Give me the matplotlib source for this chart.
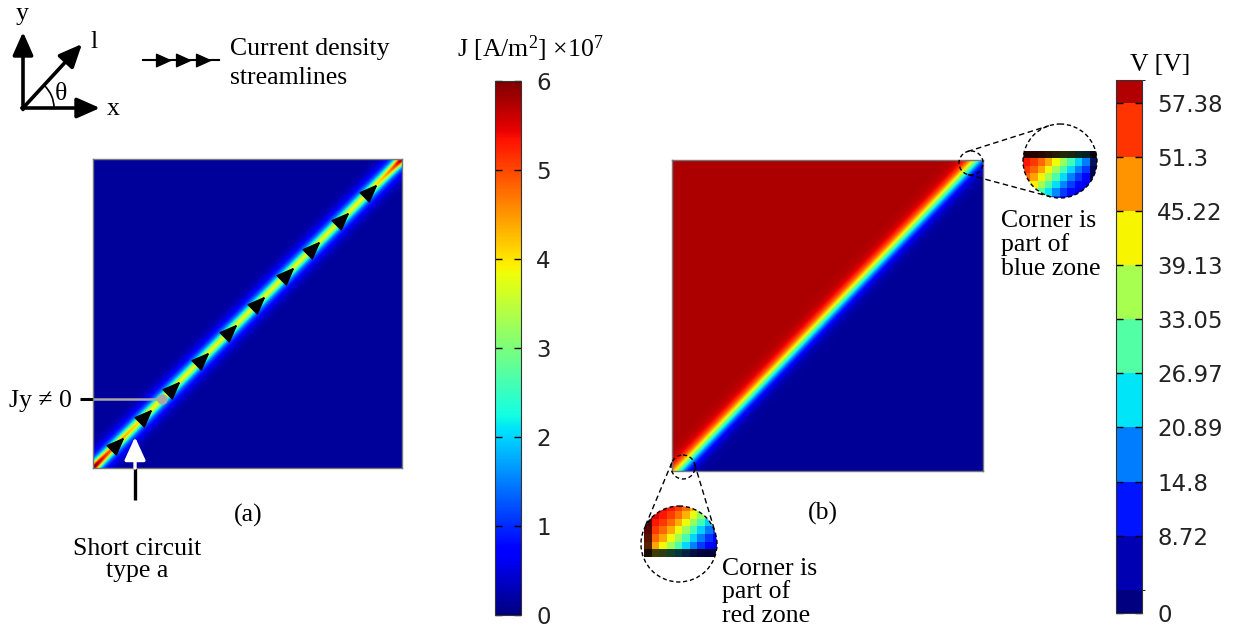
import numpy as np
import matplotlib
matplotlib.use('Agg')
import matplotlib.pyplot as plt
from matplotlib import patches
from matplotlib.colors import ListedColormap, BoundaryNorm, Normalize
from matplotlib.cm import ScalarMappable

W, H = 1243, 627

# colour scales
j_ticks = [0, 1, 2, 3, 4, 5, 6]
j_min, j_max = 0.0, 6.0
v_min, v_max = 0.0, 60.0
v_levels = [0, 2.64, 8.72, 14.8, 20.89, 26.97, 33.05, 39.13, 45.22, 51.3, 57.38, 60.0]
v_ticks = [0, 8.72, 14.8, 20.89, 26.97, 33.05, 39.13, 45.22, 51.3, 57.38]
v_tick_labels = ['0', '8.72', '14.8', '20.89', '26.97', '33.05', '39.13',
                 '45.22', '51.3', '57.38']

# current density (a): background, core and halo of the diagonal band
j_background = 0.15
j_core = 2.0
j_halo = 1.6
j_corner = [2.6, 2.4]        # extra core value at lower-left / upper-right corner
corner_decay = [0.07, 0.04]
core_width = 0.013
halo_width = 0.034

# potential (b)
v_low, v_high = 1.2, 57.6
v_edge_offset = 0.02         # mid contour meets bottom edge at u=offset, top at 1-offset
v_width = 0.034

# streamline arrowheads, fraction along the diagonal
arrow_pos = [0.078, 0.168, 0.259, 0.353, 0.443, 0.534, 0.628, 0.712, 0.806, 0.896]
jy_point = 0.223             # marked point with Jy != 0
short_circuit_u = 0.136

SERIF = ['Liberation Serif', 'DejaVu Serif']
plt.rcParams['font.family'] = 'DejaVu Sans'
plt.rcParams['mathtext.fontset'] = 'custom'
plt.rcParams['mathtext.rm'] = 'Liberation Serif'
plt.rcParams['mathtext.it'] = 'Liberation Serif:italic'
FS = 18.5


def j_field(u, v):
    d = np.abs(v - u) / np.sqrt(2)
    t = (u + v) / 2
    core = (j_core + j_corner[0] * np.exp(-t / corner_decay[0])
            + j_corner[1] * np.exp(-(1 - t) / corner_decay[1]))
    return (j_background + core * np.exp(-(d / core_width) ** 2)
            + j_halo * np.exp(-(d / halo_width) ** 2))


def v_field(u, v):
    u_mid = v_edge_offset + (1 - 2 * v_edge_offset) * v
    s = np.tanh((u_mid - u) / v_width)
    return (v_high + v_low) / 2 + (v_high - v_low) / 2 * s


def rect(x0, y0, x1, y1):
    return [x0 / W, 1 - y1 / H, (x1 - x0) / W, (y1 - y0) / H]


def tri_marker(angle_deg, half_width):
    pts = np.array([[1, 0], [-1, half_width], [-1, -half_width], [1, 0]])
    a = np.deg2rad(angle_deg)
    rot = np.array([[np.cos(a), -np.sin(a)], [np.sin(a), np.cos(a)]])
    return [tuple(p) for p in pts @ rot.T]


fig = plt.figure(figsize=(W / 100, H / 100), dpi=100)

PA = (93, 159, 402, 468)
PB = (672, 160, 983, 471)
ax_a = fig.add_axes(rect(*PA))
ax_b = fig.add_axes(rect(*PB))
cax_j = fig.add_axes(rect(495, 81, 521, 615))
cax_v = fig.add_axes(rect(1116, 80, 1142, 613))

n = 500
uu, vv = np.meshgrid(np.linspace(0, 1, n), np.linspace(0, 1, n))

# (a) current density with streamline arrows
ax_a.imshow(j_field(uu, vv), origin='lower', extent=[0, 1, 0, 1], cmap='jet',
            vmin=j_min, vmax=j_max, interpolation='bilinear')
ax_a.plot(arrow_pos, arrow_pos, ls='none', marker=tri_marker(45, 0.8),
          ms=15, color='k')
ax_a.plot([-0.042, 0], [jy_point, jy_point], color='k', lw=2.2,
          clip_on=False, solid_capstyle='butt')
ax_a.plot([0, jy_point], [jy_point, jy_point], color='#a8a8a8', lw=1.8,
          solid_capstyle='butt')
ax_a.plot(jy_point, jy_point, 'o', color='#a8a8a8', ms=6.5)
ax_a.plot([short_circuit_u, short_circuit_u], [-0.105, 0], color='k', lw=2.4,
          clip_on=False, solid_capstyle='butt')
ax_a.annotate('', xy=(short_circuit_u, 0.10), xytext=(short_circuit_u, 0),
              arrowprops=dict(arrowstyle='-|>,head_length=0.7,head_width=0.32',
                              mutation_scale=20, lw=2.4, color='white',
                              shrinkA=0, shrinkB=0))

# (b) electric potential
ax_b.imshow(v_field(uu, vv), origin='lower', extent=[0, 1, 0, 1], cmap='jet',
            vmin=v_min, vmax=v_max, interpolation='bilinear')

for ax in (ax_a, ax_b):
    ax.set_xlim(0, 1)
    ax.set_ylim(0, 1)
    ax.set_xticks([])
    ax.set_yticks([])
    for sp in ax.spines.values():
        sp.set_color('#777777')
        sp.set_linewidth(1.0)

# colour bars
cb_j = fig.colorbar(ScalarMappable(Normalize(j_min, j_max), 'jet'), cax=cax_j,
                    ticks=j_ticks)
cmap_v = ListedColormap(plt.cm.jet(np.array(v_levels[:-1]) / v_max))
norm_v = BoundaryNorm(v_levels, cmap_v.N)
cb_v = fig.colorbar(ScalarMappable(norm_v, cmap_v), cax=cax_v, boundaries=v_levels,
                    spacing='proportional', ticks=v_ticks)
cb_v.set_ticklabels(v_tick_labels)
for cb in (cb_j, cb_v):
    cb.ax.tick_params(direction='in', length=5, width=1, left=True, right=True,
                      labelsize=16.5, labelcolor='#222222', pad=11, color='k')
    cb.outline.set_edgecolor('#333333')
    cb.outline.set_linewidth(0.8)

# overlay in pixel coordinates for sketches, labels and zoom circles
ov = fig.add_axes([0, 0, 1, 1])
ov.axis('off')


def arrow(tail, tip, color='k', lw=2.4):
    ov.annotate('', xy=tip, xytext=tail,
                arrowprops=dict(arrowstyle='-|>,head_length=0.7,head_width=0.31',
                                mutation_scale=20, lw=lw, color=color,
                                shrinkA=0, shrinkB=0))


def label(x, y, s, ha='left', va='baseline', size=FS):
    ov.text(x, y, s, ha=ha, va=va, fontsize=size, family=SERIF, color='k')


# coordinate sketch
arrow((23, 109.5), (23, 32), lw=2.6)
arrow((21.8, 108), (100, 108), lw=2.6)
arrow((23, 108), (82, 44), lw=2.6)
ov.add_patch(patches.Arc((23, 108), 62, 62, theta1=-47, theta2=0, lw=1.2, color='k'))
label(22, 20, 'y', ha='center')
label(94, 48, 'l', ha='center')
label(61, 100, 'θ', ha='center')
label(113, 115, 'x', ha='center')

# streamline key
ov.plot([143, 219], [60, 60], color='k', lw=1.5)
ov.plot([163, 183, 203], [60, 60, 60], ls='none', marker=tri_marker(0, 0.9),
        ms=10, color='k')
label(230, 55, 'Current density')
label(230, 84, 'streamlines')

label(457, 57, 'J [A/m$^2$] ×10$^7$')
label(1160, 71, 'V [V]', ha='center')
label(72, 407, 'Jy ≠ 0', ha='right')
label(137, 555, 'Short circuit', ha='center')
label(137, 577, 'type a', ha='center')
label(248, 515, '(a)', ha='center', va='center')
label(823, 513, '(b)', ha='center', va='center')
label(1001, 227, 'Corner is')
label(1001, 251, 'part of')
label(1001, 275, 'blue zone')
label(722, 575, 'Corner is')
label(722, 598, 'part of')
label(722, 622, 'red zone')


def panel_px(u, v):
    x0, y0, x1, y1 = PB
    return x0 + (x1 - x0) * u, y1 - (y1 - y0) * v


def tangents(c1, r1, c2, r2):
    c1, c2 = np.asarray(c1, float), np.asarray(c2, float)
    d = c2 - c1
    dist = np.hypot(*d)
    dh = d / dist
    perp = np.array([-dh[1], dh[0]])
    ca = (r2 - r1) / dist
    sa = np.sqrt(1 - ca ** 2)
    out = []
    for sgn in (1, -1):
        nrm = ca * dh + sgn * sa * perp
        out.append((c1 - r1 * nrm, c2 - r2 * nrm))
    return out


def zoom_circle(small_c, r_small, big_c, r_big, corner):
    mag = r_big / r_small
    cell = 2.4 / (PB[2] - PB[0])
    ncell = 14
    k = (np.arange(ncell) + 0.5) * cell
    if corner == 'lower left':
        us, vs = k, k
    else:
        us, vs = 1 - k[::-1], 1 - k[::-1]
    gu, gv = np.meshgrid(us, vs)
    rgb = plt.cm.jet(Normalize(v_min, v_max)(v_field(gu, gv)))[..., :3]
    # the boundary cells of the domain come out dark in the mesh
    if corner == 'lower left':
        rgb[0, :, :] *= 0.25
        rgb[:, 0, :] *= 0.35
    else:
        rgb[-1, :, :] *= 0.15
        rgb[:, -1, :] *= 0.35
    ua, ub = us[0] - cell / 2, us[-1] + cell / 2
    wa, wb = vs[0] - cell / 2, vs[-1] + cell / 2
    (pxa, pya), (pxb, pyb) = panel_px(ua, wa), panel_px(ub, wb)

    def to_big(px, py):
        return (big_c[0] + mag * (px - small_c[0]),
                big_c[1] + mag * (py - small_c[1]))

    bxa, bya = to_big(pxa, pya)
    bxb, byb = to_big(pxb, pyb)
    im = ov.imshow(rgb, origin='lower', extent=[bxa, bxb, bya, byb],
                   interpolation='nearest', zorder=2)
    im.set_clip_path(patches.Circle(big_c, r_big, transform=ov.transData))
    for c, r in ((small_c, r_small), (big_c, r_big)):
        ov.add_patch(patches.Circle(c, r, fill=False, ec='k', lw=1.0,
                                    ls=(0, (3, 2)), zorder=3))
    for p, q in tangents(small_c, r_small, big_c, r_big):
        ov.plot([p[0], q[0]], [p[1], q[1]], color='k', lw=1.0, ls=(0, (4, 2.5)),
                zorder=3)


zoom_circle((683, 467), 12, (679, 544), 38, 'lower left')
zoom_circle((971, 163), 12, (1060, 161), 37, 'upper right')

ov.set_aspect('auto')
ov.set_xlim(0, W)
ov.set_ylim(H, 0)

fig.savefig('out.png', dpi=100)
